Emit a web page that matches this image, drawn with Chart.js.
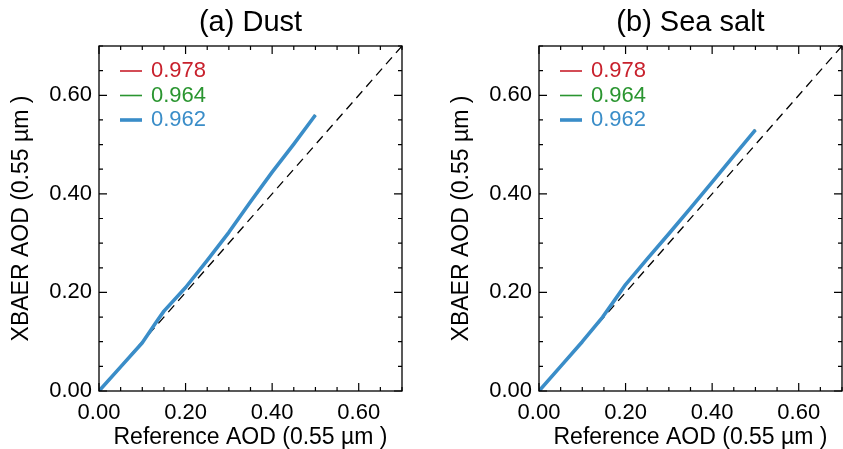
<!DOCTYPE html>
<html>
<head>
<meta charset="utf-8">
<script src="https://cdn.jsdelivr.net/npm/chart.js@4.4.1/dist/chart.umd.min.js"></script>
<style>
    body { margin: 0; background: #fff; }
    .panel { position: absolute; top: 0; }
</style>
</head>
<body>
<div class="panel" style="left:0"><canvas id="dust" width="440" height="449"></canvas></div>
<div class="panel" style="left:440px"><canvas id="salt" width="403" height="449"></canvas></div>
<script>
// values
const refDust = [0, 0.05, 0.10, 0.13, 0.15, 0.20, 0.25, 0.30, 0.35, 0.40, 0.45, 0.50]
const xbaerDust = [0, 0.049, 0.098, 0.137, 0.162, 0.210, 0.265, 0.322, 0.384, 0.444, 0.501, 0.560]
const refSalt = [0, 0.05, 0.10, 0.147, 0.185, 0.20, 0.25, 0.30, 0.35, 0.40, 0.45, 0.50]
const xbaerSalt = [0, 0.050, 0.100, 0.150, 0.197, 0.216, 0.268, 0.319, 0.371, 0.424, 0.477, 0.530]
const oneToOne = [0, 0.70]
const axisTicks = [0, 0.2, 0.4, 0.6]
const corrLabels = ['0.978', '0.964', '0.962']
const seriesColors = ['#c8202c', '#2a9530', '#3a8dc8']

const FONT = "'Liberation Sans', Arial, Helvetica, sans-serif"

function toPoints(xs, ys) {
    return xs.map((x, i) => ({ x: x, y: ys[i] }))
}

// frame with inward ticks on all four sides
const frameTicks = {
    id: 'frameTicks',
    afterDatasetsDraw(chart) {
        const { ctx, chartArea: a, scales: { x, y } } = chart
        ctx.save()
        ctx.strokeStyle = '#000'
        ctx.lineWidth = 1.3
        ctx.strokeRect(a.left, a.top, a.width, a.height)
        ctx.lineWidth = 1.2
        for (let i = 0; i <= 14; i++) {
            const v = i * 0.05
            const len = i % 4 === 0 ? 8 : 4
            const px = x.getPixelForValue(v)
            const py = y.getPixelForValue(v)
            ctx.beginPath()
            ctx.moveTo(px, a.bottom); ctx.lineTo(px, a.bottom - len)
            ctx.moveTo(px, a.top); ctx.lineTo(px, a.top + len)
            ctx.moveTo(a.left, py); ctx.lineTo(a.left + len, py)
            ctx.moveTo(a.right, py); ctx.lineTo(a.right - len, py)
            ctx.stroke()
        }
        ctx.restore()
    }
}

// legend inside the plot, top left
const insideLegend = {
    id: 'insideLegend',
    afterDraw(chart) {
        const { ctx, chartArea: a } = chart
        ctx.save()
        ctx.font = '22px ' + FONT
        ctx.textBaseline = 'middle'
        corrLabels.forEach((lab, i) => {
            const ds = chart.data.datasets.find(d => d.label === lab)
            const yy = a.top + 25 + i * 24.5
            ctx.strokeStyle = ds.borderColor
            ctx.lineWidth = ds.borderWidth
            ctx.beginPath()
            ctx.moveTo(a.left + 21, yy)
            ctx.lineTo(a.left + 43, yy)
            ctx.stroke()
            ctx.fillStyle = ds.borderColor
            ctx.fillText(lab, a.left + 52, yy)
        })
        ctx.restore()
    }
}

function makeChart(id, title, xs, ys) {
    const canvas = document.getElementById(id)
    return new Chart(canvas, {
        type: 'line',
        data: {
            datasets: [
                { label: corrLabels[2], data: toPoints(xs, ys), borderColor: seriesColors[2], borderWidth: 3.6, order: 0 },
                { label: corrLabels[1], data: toPoints(xs, ys), borderColor: seriesColors[1], borderWidth: 1.6, order: 1 },
                { label: corrLabels[0], data: toPoints(xs, ys), borderColor: seriesColors[0], borderWidth: 1.6, order: 2 },
                { label: '1:1', data: toPoints(oneToOne, oneToOne), borderColor: '#000', borderWidth: 1.3, borderDash: [9, 6], order: 3 }
            ]
        },
        options: {
            responsive: false,
            animation: false,
            elements: { point: { radius: 0 }, line: { tension: 0, borderJoinStyle: 'round' } },
            layout: { padding: { left: 0, top: 0, right: canvas.width - 402, bottom: 0 } },
            plugins: {
                legend: { display: false },
                tooltip: { enabled: false },
                title: {
                    display: true,
                    text: title,
                    color: '#000',
                    font: { family: FONT, size: 29, weight: 'normal' },
                    padding: { top: 6, bottom: 5.2 },
                    fullSize: false
                }
            },
            scales: {
                x: {
                    type: 'linear',
                    min: 0,
                    max: 0.7,
                    afterBuildTicks: s => { s.ticks = axisTicks.map(v => ({ value: v })) },
                    afterFit: s => { s.height = 58 },
                    grid: { display: false, drawTicks: false },
                    border: { display: false },
                    ticks: {
                        color: '#000',
                        padding: 8.5,
                        font: { family: FONT, size: 22 },
                        maxRotation: 0,
                        callback: v => v.toFixed(2)
                    },
                    title: {
                        display: true,
                        text: 'Reference AOD (0.55 µm )',
                        color: '#000',
                        font: { family: FONT, size: 23 },
                        padding: { top: 0, bottom: -2 }
                    }
                },
                y: {
                    type: 'linear',
                    min: 0,
                    max: 0.7,
                    afterBuildTicks: s => { s.ticks = axisTicks.map(v => ({ value: v })) },
                    afterFit: s => { s.width = 99 },
                    grid: { display: false, drawTicks: false },
                    border: { display: false },
                    ticks: {
                        color: '#000',
                        padding: 7,
                        font: { family: FONT, size: 22 },
                        callback: v => v.toFixed(2)
                    },
                    title: {
                        display: true,
                        text: 'XBAER AOD (0.55 µm )',
                        color: '#000',
                        font: { family: FONT, size: 23 },
                        padding: { top: 8, bottom: 0 }
                    }
                }
            }
        },
        plugins: [frameTicks, insideLegend]
    })
}

makeChart('dust', '(a) Dust', refDust, xbaerDust)
makeChart('salt', '(b) Sea salt', refSalt, xbaerSalt)
</script>
</body>
</html>
